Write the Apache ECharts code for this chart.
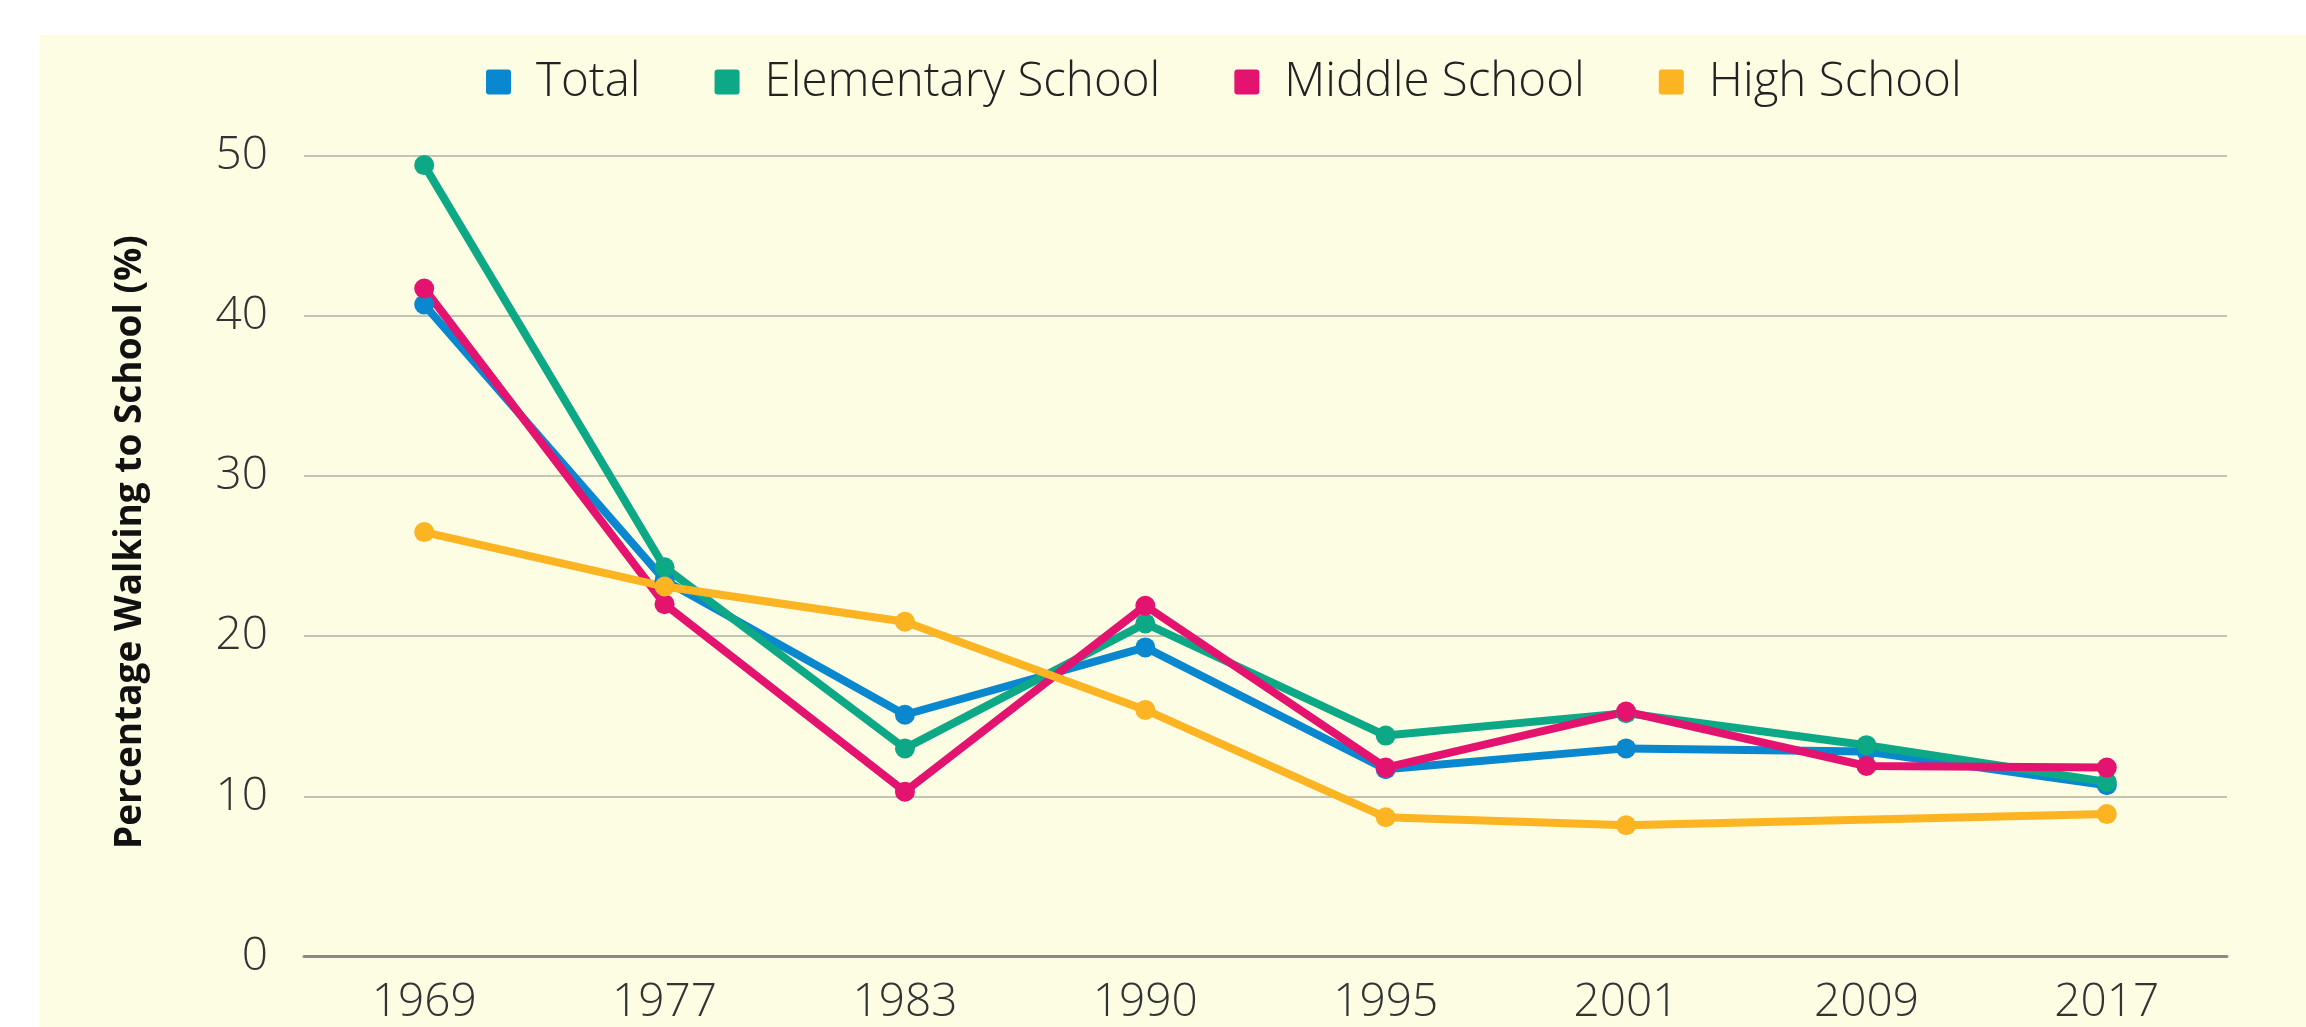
<!DOCTYPE html>
<html>
<head>
<meta charset="utf-8">
<script src="https://cdn.jsdelivr.net/npm/echarts@6/dist/echarts.min.js"></script>
<style>
html, body { margin: 0; padding: 0; background: #fff; }
#main { width: 2306px; height: 1027px; }
</style>
</head>
<body>
<div id="main"></div>
<script>
// 数据
var years = ['1969', '1977', '1983', '1990', '1995', '2001', '2009', '2017'];
var total = [40.7, 23.5, 15.1, 19.3, 11.7, 13.0, 12.8, 10.7];
var elementary = [49.4, 24.3, 13.0, 20.8, 13.8, 15.2, 13.2, 10.9];
var middle = [41.7, 22.0, 10.3, 21.9, 11.8, 15.3, 11.9, 11.8];
var high = [26.5, 23.1, 20.9, 15.4, 8.7, 8.2, null, 8.9];
var names = ['Total', 'Elementary School', 'Middle School', 'High School'];
var colors = ['#0a88cf', '#0da886', '#e3136f', '#fdb422'];

var font = "'Open Sans', 'Noto Sans', sans-serif";

function mkSeries(name, data, color){
    return {
        name: name,
        type: 'line',
        data: data,
        connectNulls: true,
        symbol: 'circle',
        symbolSize: 20,
        lineStyle: { width: 8, color: color },
        itemStyle: { color: color },
        emphasis: { disabled: true }
    };
}

var option = {
    animation: false,
    color: colors,
    graphic: [{
        type: 'rect', z: -100, silent: true,
        shape: { x: 40, y: 35, width: 2266, height: 992 },
        style: { fill: '#fcfde3' }
    }],
    legend: {
        left: 481, top: 53,
        itemWidth: 25, itemHeight: 25, itemGap: 74,
        icon: 'path://M3,0 L22,0 Q25,0 25,3 L25,22 Q25,25 22,25 L3,25 Q0,25 0,22 L0,3 Q0,0 3,0 Z',
        textStyle: { fontFamily: font, fontSize: 47.5, fontWeight: 300, color: '#222', padding: [0, 0, 0, 20] },
        data: names
    },
    grid: { left: 304, right: 79, top: 155.5, bottom: 70.3 },
    xAxis: {
        type: 'category',
        data: years,
        boundaryGap: true,
        axisLine: { lineStyle: { color: '#8c8c82', width: 3 } },
        axisTick: { show: false },
        axisLabel: { fontFamily: font, fontSize: 46, fontWeight: 300, color: '#333', margin: 23 }
    },
    yAxis: {
        type: 'value',
        min: 0, max: 50, interval: 10,
        name: 'Percentage Walking to School (%)',
        nameLocation: 'middle',
        nameRotate: 90,
        nameGap: 155,
        nameTextStyle: { fontFamily: font, fontSize: 37, fontWeight: 'bold', color: '#111', padding: [0, 0, 0, 28] },
        axisLine: { show: false },
        axisTick: { show: false },
        axisLabel: { fontFamily: font, fontSize: 46, fontWeight: 300, color: '#333', margin: 36 },
        splitLine: { lineStyle: { color: '#c4c4b4', width: 2 } }
    },
    series: [
        mkSeries(names[0], total, colors[0]),
        mkSeries(names[1], elementary, colors[1]),
        mkSeries(names[2], middle, colors[2]),
        mkSeries(names[3], high, colors[3])
    ]
};

var chart = echarts.init(document.getElementById('main'));
chart.setOption(option);
</script>
</body>
</html>
